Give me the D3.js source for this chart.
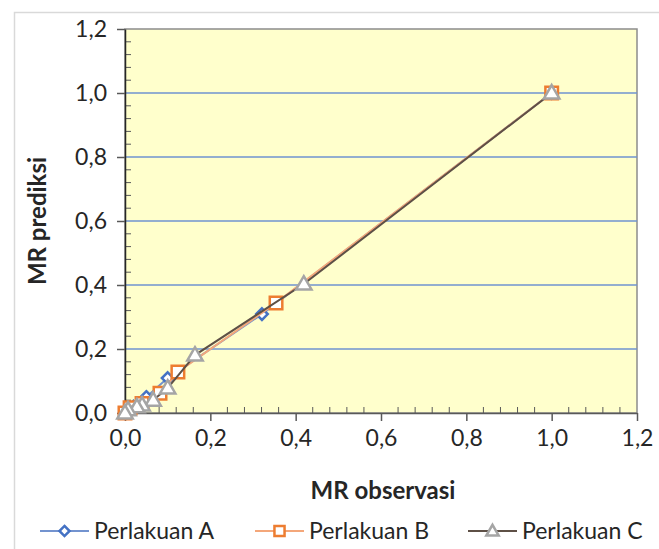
<!DOCTYPE html>
<html>
<head>
<meta charset="utf-8">
<script src="https://cdn.jsdelivr.net/npm/d3@7"></script>
<style>
  body { margin: 0; background: #fff; }
  text { font-family: Lato, "Open Sans", sans-serif; fill: #262626; }
</style>
</head>
<body>
<div id="container"></div>
<script>
/* CONSTANTS AND GLOBALS */
const width = 659,
  height = 549,
  margin = {top: 29, bottom: 136, left: 125, right: 22};

/* DATA */
const seriesNames = ["Perlakuan A", "Perlakuan B", "Perlakuan C"];
const obsA = [1.0, 0.321, 0.100, 0.050, 0.020, 0.0];
const predA = [1.0, 0.309, 0.109, 0.050, 0.020, 0.0];
const obsB = [1.0, 0.354, 0.124, 0.082, 0.040, 0.012, 0.0];
const predB = [1.0, 0.344, 0.128, 0.062, 0.030, 0.016, 0.0];
const obsC = [1.0, 0.419, 0.164, 0.100, 0.066, 0.040, 0.028, 0.007, 0.0];
const predC = [1.0, 0.403, 0.181, 0.078, 0.040, 0.025, 0.019, 0.010, 0.0];
const xTicks = [0, 0.2, 0.4, 0.6, 0.8, 1.0, 1.2];
const yTicks = [0, 0.2, 0.4, 0.6, 0.8, 1.0, 1.2];

const series = [
  {name: seriesNames[0], x: obsA, y: predA, line: "#7393cf", stroke: "#4472c4", shape: "diamond"},
  {name: seriesNames[1], x: obsB, y: predB, line: "#f4a77a", stroke: "#ed7d31", shape: "square"},
  {name: seriesNames[2], x: obsC, y: predC, line: "#5e5046", stroke: "#a5a5a5", shape: "triangle"}
];

const fmt = d => d3.format(".1f")(d).replace(".", ",");

// SCALES
const xScale = d3.scaleLinear().domain([0, 1.2]).range([margin.left, width - margin.right]);
const yScale = d3.scaleLinear().domain([0, 1.2]).range([height - margin.bottom, margin.top]);

// CREATE SVG ELEMENT
const svg = d3.select("#container").append("svg")
  .attr("width", width)
  .attr("height", height);

// chart area border
svg.append("rect")
  .attr("x", 14.5).attr("y", 12.5)
  .attr("width", 700).attr("height", 600)
  .attr("fill", "none").attr("stroke", "#d9d9d9").attr("stroke-width", 1.5);

// plot area
svg.append("rect")
  .attr("x", xScale(0)).attr("y", yScale(1.2))
  .attr("width", xScale(1.2) - xScale(0))
  .attr("height", yScale(0) - yScale(1.2))
  .attr("fill", "#ffffcc")
  .attr("stroke", "#8c8c8c").attr("stroke-width", 1.5);

// GRID
svg.append("g").selectAll("line")
  .data(yTicks.filter(d => d > 0 && d < 1.2))
  .join("line")
  .attr("x1", xScale(0)).attr("x2", xScale(1.2))
  .attr("y1", d => yScale(d)).attr("y2", d => yScale(d))
  .attr("stroke", "#6f93d0").attr("stroke-width", 1.5);

// MINOR TICKS (inside)
const minor = d3.range(0, 1.2001, 0.04).filter(d => Math.abs(d / 0.2 - Math.round(d / 0.2)) > 1e-6);
svg.append("g").selectAll("line")
  .data(minor).join("line")
  .attr("x1", xScale(0)).attr("x2", xScale(0) + 6)
  .attr("y1", d => yScale(d)).attr("y2", d => yScale(d))
  .attr("stroke", "#595959").attr("stroke-width", 1);
svg.append("g").selectAll("line")
  .data(minor).join("line")
  .attr("y1", yScale(0)).attr("y2", yScale(0) - 6)
  .attr("x1", d => xScale(d)).attr("x2", d => xScale(d))
  .attr("stroke", "#595959").attr("stroke-width", 1);

// BUILD AND CALL AXES
const xAxis = d3.axisBottom(xScale).tickValues(xTicks).tickFormat(fmt).tickSizeInner(8).tickSizeOuter(0).tickPadding(9);
svg.append("g")
  .attr("transform", `translate(0, ${yScale(0)})`)
  .call(xAxis)
  .call(g => g.select(".domain").attr("stroke", "#595959").attr("stroke-width", 1.5))
  .call(g => g.selectAll(".tick line").attr("stroke", "#595959").attr("stroke-width", 1.5))
  .call(g => g.selectAll("text").style("font-size", "23px").attr("fill", "#262626"));

const yAxis = d3.axisLeft(yScale).tickValues(yTicks).tickFormat(fmt).tickSizeInner(8).tickSizeOuter(0).tickPadding(10);
svg.append("g")
  .attr("transform", `translate(${xScale(0)}, 0)`)
  .call(yAxis)
  .call(g => g.select(".domain").attr("stroke", "#262626").attr("stroke-width", 1.5))
  .call(g => g.selectAll(".tick line").attr("stroke", "#595959").attr("stroke-width", 1.5))
  .call(g => g.selectAll("text").style("font-size", "23px").attr("fill", "#262626"));

// AXIS TITLES
svg.append("text")
  .attr("x", xScale(0.6) + 2).attr("y", 499)
  .attr("text-anchor", "middle")
  .style("font-size", "24px").style("font-weight", "bold")
  .text("MR observasi");
svg.append("text")
  .attr("transform", `translate(46, ${yScale(0.6)}) rotate(-90)`)
  .attr("text-anchor", "middle")
  .style("font-size", "24px").style("font-weight", "bold")
  .text("MR prediksi");

// MARKER SHAPES
const symbolFor = s => s === "diamond" ? d3.symbol(d3.symbolDiamond2, 85)
  : s === "square" ? d3.symbol(d3.symbolSquare2, 200)
  : d3.symbol(d3.symbolTriangle2, 170);

// LINE GENERATOR FUNCTION
const lineGen = d3.line()
  .x(d => xScale(d[0]))
  .y(d => yScale(d[1]));

// DRAW SERIES
series.forEach(s => {
  const pts = s.x.map((v, i) => [v, s.y[i]]);
  svg.append("path")
    .datum(pts)
    .attr("fill", "none")
    .attr("stroke", s.line)
    .attr("stroke-width", 2)
    .attr("d", lineGen);
  svg.append("g").selectAll("path")
    .data(pts).join("path")
    .attr("transform", d => `translate(${xScale(d[0])}, ${yScale(d[1])})${s.shape === "triangle" ? " translate(0,1)" : ""}`)
    .attr("d", symbolFor(s.shape)())
    .attr("fill", "#fff")
    .attr("stroke", s.stroke)
    .attr("stroke-width", 2.5);
});

// LEGEND
const legendX = [40, 255, 468];
const legend = svg.append("g");
series.forEach((s, i) => {
  const g = legend.append("g").attr("transform", `translate(${legendX[i]}, 531)`);
  g.append("line").attr("x1", 0).attr("x2", 49).attr("y1", 0).attr("y2", 0)
    .attr("stroke", s.line).attr("stroke-width", 2);
  g.append("path")
    .attr("transform", `translate(24.5, ${s.shape === "triangle" ? 1 : 0})`)
    .attr("d", symbolFor(s.shape).size(s.shape === "square" ? 130 : s.shape === "diamond" ? 65 : 110)())
    .attr("fill", "#fff").attr("stroke", s.stroke).attr("stroke-width", 2.5);
  g.append("text").attr("x", 54).attr("y", 0).attr("dy", "0.35em")
    .style("font-size", "23px")
    .text(s.name);
});
</script>
</body>
</html>
